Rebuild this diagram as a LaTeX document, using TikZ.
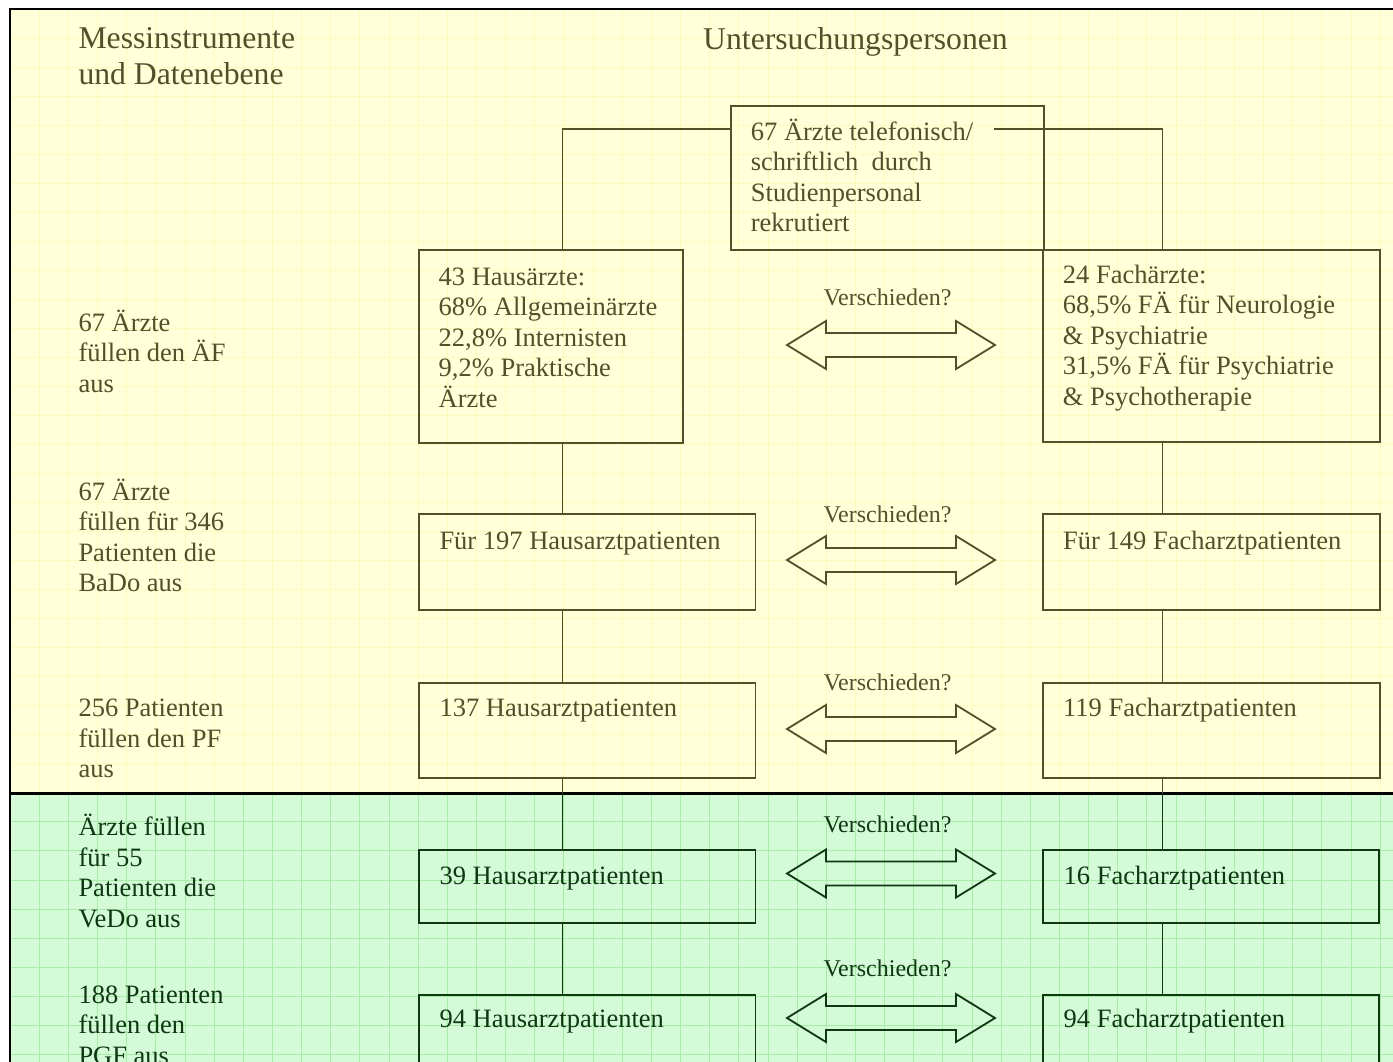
\documentclass[tikz,border=0pt]{standalone}
\usepackage{fontspec}
\setmainfont{Liberation Serif}
\definecolor{ybg}{RGB}{255,255,217}
\definecolor{ygrid}{RGB}{251,251,188}
\definecolor{gbg}{RGB}{212,250,216}
\definecolor{ggrid}{RGB}{165,238,165}
\definecolor{ytext}{RGB}{80,80,45}
\definecolor{gtext}{RGB}{15,55,20}
\begin{document}
\begin{tikzpicture}[x=1pt,y=-1pt,
  body/.style={font=\fontsize{26.5}{30.5}\selectfont, align=left, anchor=base west, inner sep=0pt},
  head/.style={font=\fontsize{31.7}{36.5}\selectfont, align=left, anchor=base west, inner sep=0pt, text=ytext},
  vlab/.style={font=\fontsize{24}{28}\selectfont, anchor=base, inner sep=0pt},
  ytx/.style={body, text=ytext},
  gtx/.style={body, text=gtext},
  ybox/.style={draw=ytext, line width=1.8pt, anchor=north west, inner sep=0pt},
  gbox/.style={draw=gtext, line width=1.8pt, anchor=north west, inner sep=0pt},
  yconn/.style={draw=ytext, line width=1.6pt},
  gconn/.style={draw=gtext, line width=1.6pt},
  dblarr/.pic={\path[pic actions] (-104,0) -- (-65,-24) -- (-65,-12) -- (65,-12) -- (65,-24) -- (104,0) -- (65,24) -- (65,12) -- (-65,12) -- (-65,24) -- cycle;}
]
\useasboundingbox (0,0) rectangle (1393,1062);
\clip (0,0) rectangle (1393,1062);
\fill[white] (0,0) rectangle (1393,1062);
% backgrounds
\fill[ybg] (10,9) rectangle (1393,793);
\fill[gbg] (10,793) rectangle (1393,1062);
% grids
\foreach \i in {0,...,47} {
  \draw[ygrid, line width=0.8pt] ({10+29.15*\i},9) -- ({10+29.15*\i},793);
  \draw[ggrid, line width=0.8pt] ({10+29.15*\i},793) -- ({10+29.15*\i},1062);
}
\foreach \j in {1,...,27} {
  \draw[ygrid, line width=0.8pt] (10,{9+29.03*\j}) -- (1393,{9+29.03*\j});
}
\foreach \j in {28,...,36} {
  \draw[ggrid, line width=0.8pt] (10,{9+29.03*\j}) -- (1393,{9+29.03*\j});
}
% frame
\draw[black, line width=2.5pt] (10,1062) -- (10,9) -- (1393,9);
\draw[black, line width=3pt] (10,793) -- (1393,793);

% headings (anchor = baseline of last line)
\node[head] (hmess) at (78.3,85) {Messinstrumente\\und Datenebene};
\node[head] (hunt) at (703,49.5) {Untersuchungspersonen};

% left labels
\node[ytx] (l1) at (78.3,392) {67 Ärzte\\füllen den ÄF\\aus};
\node[ytx] (l2) at (78.3,591.5) {67 Ärzte\\füllen für 346\\Patienten die\\BaDo aus};
\node[ytx] (l3) at (78.3,777.5) {256 Patienten\\füllen den PF\\aus};
\node[gtx] (l4) at (78.3,927) {Ärzte füllen\\für 55\\Patienten die\\VeDo aus};
\node[gtx] (l5) at (78.3,1064.3) {188 Patienten\\füllen den\\PGF aus};

% boxes
\node[ybox, minimum width=312.7pt, minimum height=144.3pt] (top) at (730,105) {};
\node[ybox, minimum width=264pt, minimum height=192.4pt] (h1) at (418,249.3) {};
\node[ybox, minimum width=337pt, minimum height=192pt] (f1) at (1042,249.3) {};
\node[ybox, minimum width=336.5pt, minimum height=96pt] (h2) at (418,513.3) {};
\node[ybox, minimum width=337pt, minimum height=96pt] (f2) at (1042,513.3) {};
\node[ybox, minimum width=336.5pt, minimum height=95pt] (h3) at (418,681.7) {};
\node[ybox, minimum width=337pt, minimum height=95pt] (f3) at (1042,681.7) {};
\node[gbox, minimum width=336.5pt, minimum height=72.7pt] (h4) at (418,849) {};
\node[gbox, minimum width=336pt, minimum height=72.7pt] (f4) at (1042,849) {};
\node[gbox, minimum width=336.5pt, minimum height=100pt] (h5) at (418,994) {};
\node[gbox, minimum width=336pt, minimum height=100pt] (f5) at (1042,994) {};

% box texts (anchor = baseline of last line)
\node[ytx] (ttop) at (750.7,231.5) {67 Ärzte telefonisch/\\schriftlich\ \ durch\\Studienpersonal\\rekrutiert};
\node[ytx] (th1) at (438.5,407) {43 Hausärzte:\\68\% Allgemeinärzte\\22,8\% Internisten\\9,2\% Praktische\\Ärzte};
\node[ytx] (tf1) at (1062.7,405.3) {24 Fachärzte:\\68,5\% FÄ für Neurologie\\\& Psychiatrie\\31,5\% FÄ für Psychiatrie\\\& Psychotherapie};
\node[ytx] (th2) at (439.3,549) {Für 197 Hausarztpatienten};
\node[ytx] (tf2) at (1063,549) {Für 149 Facharztpatienten};
\node[ytx] (th3) at (439.3,716.7) {137 Hausarztpatienten};
\node[ytx] (tf3) at (1063,716.7) {119 Facharztpatienten};
\node[gtx] (th4) at (439.3,884.5) {39 Hausarztpatienten};
\node[gtx] (tf4) at (1063.5,884.5) {16 Facharztpatienten};
\node[gtx] (th5) at (439.3,1027.5) {94 Hausarztpatienten};
\node[gtx] (tf5) at (1063.5,1027.5) {94 Facharztpatienten};

% connectors
\coordinate (lx) at (562.5,0);
\coordinate (rx) at (1162.3,0);
\coordinate (tl) at (top.west |- 0,129.3);
\coordinate (tr) at (994,129.3);
\draw[yconn] (tl) -| (lx |- h1.north);
\draw[yconn] (tr) -| (rx |- f1.north);
\draw[yconn] (lx |- h1.south) -- (lx |- h2.north);
\draw[yconn] (rx |- f1.south) -- (rx |- f2.north);
\draw[yconn] (lx |- h2.south) -- (lx |- h3.north);
\draw[yconn] (rx |- f2.south) -- (rx |- f3.north);
\draw[yconn] (lx |- h3.south) -- (lx |- 0,793);
\draw[yconn] (rx |- f3.south) -- (rx |- 0,793);
\draw[gconn] (lx |- 0,793) -- (lx |- h4.north);
\draw[gconn] (rx |- 0,793) -- (rx |- f4.north);
\draw[gconn] (lx |- h4.south) -- (lx |- h5.north);
\draw[gconn] (rx |- f4.south) -- (rx |- f5.north);

% comparison arrows and labels
\node[vlab, text=ytext] (v1) at (887.5,305) {Verschieden?};
\node[vlab, text=ytext] (v2) at (887.5,522) {Verschieden?};
\node[vlab, text=ytext] (v3) at (887.5,690) {Verschieden?};
\node[vlab, text=gtext] (v4) at (887.5,832.7) {Verschieden?};
\node[vlab, text=gtext] (v5) at (887.5,976.7) {Verschieden?};
\pic[draw=ytext, line width=1.8pt] at (891,345) {dblarr};
\pic[draw=ytext, line width=1.8pt] at (891,560) {dblarr};
\pic[draw=ytext, line width=1.8pt] at (891,729) {dblarr};
\pic[draw=gtext, line width=1.8pt] at (891,873.5) {dblarr};
\pic[draw=gtext, line width=1.8pt] at (891,1018) {dblarr};
\end{tikzpicture}
\end{document}
